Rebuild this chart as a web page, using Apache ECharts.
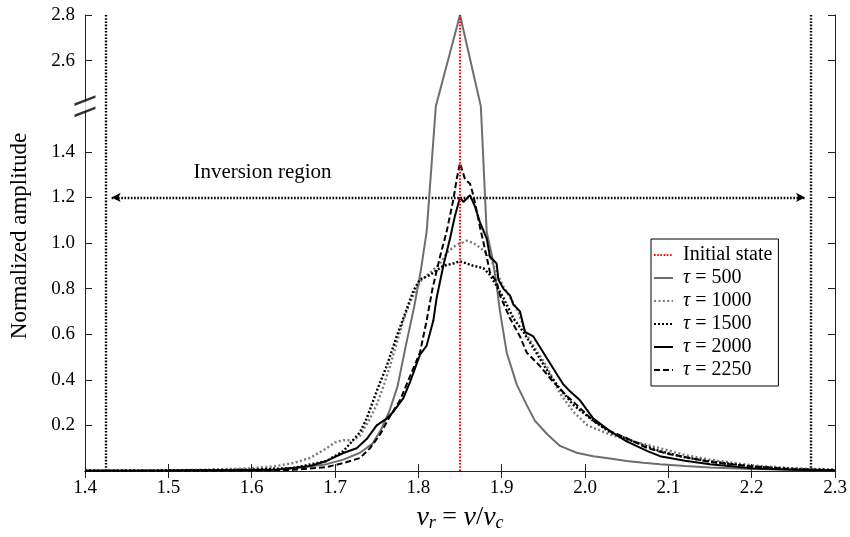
<!DOCTYPE html>
<html>
<head>
<meta charset="utf-8">
<script src="https://cdn.jsdelivr.net/npm/echarts@6.0.0/dist/echarts.min.js"></script>
<style>
  html, body { margin: 0; padding: 0; background: #fff; }
  #main { width: 850px; height: 537px; }
</style>
</head>
<body>
<div id="main"></div>
<script>
// 坐标轴范围（y 轴在 1.6~2.4 之间断开）
var xMin = 1.4, xMax = 2.3;
var BREAK_LO = 1.6, BREAK_HI = 2.4, yTop = 2.8;
var yTickVals = [0.2, 0.4, 0.6, 0.8, 1.0, 1.2, 1.4, 2.6, 2.8];

// 反转区边界
var invLeft = 1.425, invRight = 2.271;

var legendNames = ['Initial state', 'τ = 500', 'τ = 1000', 'τ = 1500', 'τ = 2000', 'τ = 2250'];

var initialState = [[1.85, 0], [1.85, 2.8]];

var tau500 = [[1.40,0.001],[1.50,0.002],[1.55,0.003],[1.60,0.005],[1.63,0.008],[1.66,0.015],[1.69,0.03],
  [1.71,0.05],[1.73,0.08],[1.745,0.12],[1.755,0.18],[1.765,0.26],[1.775,0.37],[1.785,0.55],[1.795,0.72],
  [1.803,0.88],[1.81,1.05],[1.821,1.6],[1.85,2.8],[1.875,1.6],[1.882,1.05],[1.888,0.95],[1.893,0.84],
  [1.898,0.70],[1.906,0.52],[1.918,0.38],[1.93,0.29],[1.94,0.22],[1.955,0.16],[1.97,0.11],[1.99,0.08],
  [2.01,0.065],[2.03,0.055],[2.05,0.044],[2.07,0.036],[2.09,0.03],[2.12,0.022],[2.15,0.015],[2.2,0.009],
  [2.25,0.005],[2.3,0.003]];

var tau1000 = [[1.4,0.001],[1.5,0.003],[1.55,0.006],[1.6,0.012],[1.63,0.022],[1.65,0.035],[1.67,0.057],
  [1.69,0.10],[1.70,0.125],[1.71,0.135],[1.722,0.135],[1.73,0.155],[1.742,0.23],[1.75,0.29],[1.758,0.37],
  [1.766,0.46],[1.774,0.56],[1.782,0.66],[1.79,0.74],[1.802,0.83],[1.814,0.87],[1.826,0.91],[1.835,0.96],
  [1.845,0.99],[1.858,1.01],[1.866,1.0],[1.874,0.98],[1.886,0.94],[1.894,0.87],[1.902,0.81],[1.912,0.75],
  [1.92,0.70],[1.928,0.61],[1.938,0.55],[1.954,0.46],[1.97,0.34],[1.986,0.26],[2.003,0.2],[2.03,0.16],
  [2.058,0.13],[2.09,0.10],[2.12,0.07],[2.15,0.05],[2.2,0.025],[2.25,0.012],[2.3,0.006]];

var tau1500 = [[1.4,0.001],[1.5,0.002],[1.6,0.006],[1.65,0.013],[1.69,0.044],[1.71,0.087],[1.73,0.17],
  [1.738,0.23],[1.75,0.35],[1.762,0.46],[1.774,0.59],[1.786,0.71],[1.794,0.79],[1.802,0.84],[1.814,0.86],
  [1.83,0.9],[1.842,0.91],[1.85,0.92],[1.866,0.9],[1.878,0.89],[1.886,0.86],[1.894,0.81],[1.902,0.76],
  [1.914,0.67],[1.926,0.61],[1.943,0.51],[1.958,0.42],[1.97,0.36],[1.986,0.29],[2.01,0.22],[2.03,0.17],
  [2.058,0.13],[2.09,0.087],[2.12,0.06],[2.15,0.042],[2.2,0.02],[2.25,0.009],[2.3,0.004]];

var tau2000 = [[1.4,0.001],[1.5,0.002],[1.6,0.004],[1.63,0.006],[1.67,0.022],[1.69,0.044],[1.71,0.079],
  [1.726,0.10],[1.738,0.14],[1.75,0.2],[1.762,0.23],[1.77,0.26],[1.782,0.32],[1.79,0.39],[1.802,0.51],
  [1.81,0.55],[1.818,0.66],[1.822,0.76],[1.83,0.90],[1.838,1.02],[1.844,1.12],[1.85,1.2],[1.854,1.18],
  [1.862,1.21],[1.868,1.16],[1.874,1.09],[1.882,1.02],[1.886,0.94],[1.894,0.91],[1.896,0.84],[1.902,0.80],
  [1.91,0.77],[1.914,0.73],[1.922,0.70],[1.928,0.61],[1.938,0.59],[1.955,0.49],[1.967,0.42],[1.974,0.38],
  [1.982,0.35],[1.994,0.31],[2.01,0.23],[2.03,0.175],[2.05,0.13],[2.075,0.087],[2.09,0.065],[2.12,0.045],
  [2.15,0.03],[2.2,0.012],[2.25,0.005],[2.3,0.002]];

var tau2250 = [[1.4,0.001],[1.5,0.001],[1.6,0.002],[1.65,0.005],[1.69,0.017],[1.71,0.035],[1.73,0.057],
  [1.742,0.10],[1.754,0.16],[1.766,0.24],[1.778,0.31],[1.786,0.38],[1.794,0.45],[1.802,0.52],[1.81,0.66],
  [1.817,0.80],[1.826,0.94],[1.834,1.05],[1.842,1.19],[1.846,1.28],[1.85,1.35],[1.856,1.28],[1.862,1.26],
  [1.866,1.21],[1.874,1.07],[1.882,0.94],[1.886,0.87],[1.894,0.83],[1.898,0.77],[1.91,0.67],[1.922,0.59],
  [1.93,0.52],[1.946,0.46],[1.962,0.39],[1.978,0.33],[1.99,0.29],[2.01,0.22],[2.03,0.175],[2.05,0.144],
  [2.075,0.10],[2.1,0.075],[2.15,0.04],[2.2,0.02],[2.25,0.008],[2.3,0.003]];

var FONT = 'Liberation Serif';
var GAP = BREAK_HI - BREAK_LO;

// 断轴：把真实值映射到显示坐标
function brk(v) {
  if (v <= BREAK_LO) return v;
  if (v >= BREAK_HI) return v - GAP;
  return BREAK_LO;
}
function unbrk(v) {
  return v > BREAK_LO + 1e-9 ? v + GAP : v;
}
function conv(arr) {
  return arr.map(function (p) { return [p[0], brk(p[1])]; });
}

var yDispTicks = yTickVals.map(brk);
var yDispMax = brk(yTop);

function lineSeries(name, data, color, width, type) {
  return {
    name: name,
    type: 'line',
    data: conv(data),
    symbol: 'none',
    showSymbol: false,
    smooth: false,
    lineStyle: { color: color, width: width, type: type },
    // 图例里不要圆点
    itemStyle: { color: color, opacity: 0 },
    z: 5
  };
}

var axisCommon = {
  axisLine: { lineStyle: { color: '#222', width: 1 } },
  splitLine: { show: false },
  axisTick: { inside: true, length: 7, lineStyle: { color: '#222' } }
};

var myChart = echarts.init(document.getElementById('main'));
var option = {
  animation: false,
  backgroundColor: '#fff',
  grid: { left: 85, right: 15, top: 15, bottom: 64, containLabel: false },
  legend: {
    data: legendNames,
    orient: 'vertical',
    left: 651,
    top: 239,
    padding: [6, 6, 6, 2],
    itemWidth: 19,
    itemHeight: 14,
    itemGap: 3,
    borderColor: '#000',
    borderWidth: 1,
    backgroundColor: '#fff',
    textStyle: {
      fontFamily: FONT, fontSize: 20, color: '#000', padding: [0, 0, 0, 5],
      rich: { i: { fontFamily: FONT, fontSize: 20, fontStyle: 'italic', color: '#000' } }
    },
    formatter: function (name) {
      if (name.charAt(0) === 'τ') return '{i|τ} = ' + name.slice(4);
      return name;
    }
  },
  xAxis: [
    Object.assign({}, axisCommon, {
      type: 'value', min: xMin, max: xMax, interval: 0.1,
      name: '{i|v}{s|r} = {i|v}/{i|v}{s|c}',
      nameLocation: 'middle',
      nameGap: 32,
      nameTextStyle: {
        fontFamily: FONT, fontSize: 26, color: '#000',
        rich: {
          i: { fontFamily: FONT, fontSize: 28, fontStyle: 'italic', color: '#000' },
          s: { fontFamily: FONT, fontSize: 18, fontStyle: 'italic', color: '#000', padding: [11, 0, 0, 0] }
        }
      },
      axisLabel: {
        fontFamily: FONT, fontSize: 19, color: '#000', margin: 8,
        formatter: function (v) { return v.toFixed(1); }
      }
    }),
    Object.assign({}, axisCommon, {
      type: 'value', min: xMin, max: xMax, interval: 0.1, position: 'top',
      axisLabel: { show: false }
    })
  ],
  yAxis: [
    Object.assign({}, axisCommon, {
      type: 'value', min: 0, max: yDispMax, interval: 0.2,
      name: 'Normalized amplitude',
      nameLocation: 'middle',
      nameGap: 54,
      nameTextStyle: { fontFamily: FONT, fontSize: 23, color: '#000', padding: [0, 0, 0, 14] },
      axisTick: { inside: true, length: 7, customValues: yDispTicks, lineStyle: { color: '#222' } },
      axisLabel: {
        fontFamily: FONT, fontSize: 19, color: '#000', margin: 10,
        customValues: yDispTicks,
        formatter: function (v) { return unbrk(v).toFixed(1); }
      }
    }),
    Object.assign({}, axisCommon, {
      type: 'value', min: 0, max: yDispMax, interval: 0.2, position: 'right',
      axisTick: { inside: true, length: 7, customValues: yDispTicks, lineStyle: { color: '#222' } },
      axisLabel: { show: false }
    })
  ],
  series: [
    {
      name: 'markers',
      type: 'line',
      data: [],
      silent: true,
      markLine: {
        silent: true,
        symbol: 'none',
        precision: 4,
        label: { show: false },
        lineStyle: { color: '#000', width: 2.4, type: [1.6, 1.6] },
        data: [
          { xAxis: invLeft },
          { xAxis: invRight },
          [
            { coord: [invLeft + 0.007, brk(1.2)], symbol: 'arrow', symbolSize: [7, 9] },
            { coord: [invRight - 0.007, brk(1.2)], symbol: 'arrow', symbolSize: [7, 9] }
          ]
        ]
      },
      markPoint: {
        silent: true,
        symbol: 'circle',
        symbolSize: 0,
        label: {
          show: true, position: 'inside', color: '#000',
          fontFamily: FONT, fontSize: 21,
          formatter: 'Inversion region'
        },
        data: [{ coord: [1.613, brk(1.31)] }]
      }
    },
    // 断轴标记
    {
      name: 'breakGap',
      type: 'scatter',
      data: [[xMin, BREAK_LO]],
      symbol: 'rect',
      symbolSize: [5, 10],
      itemStyle: { color: '#fff' },
      clip: false,
      silent: true,
      z: 8
    },
    {
      name: 'breakMark',
      type: 'scatter',
      data: [[xMin, BREAK_LO]],
      symbol: 'path://M0,8 L20,0 L20,2.6 L0,10.6 Z M0,19 L20,11 L20,13.6 L0,21.6 Z',
      symbolSize: [21, 22],
      itemStyle: { color: '#000' },
      clip: false,
      silent: true,
      z: 9
    },
    lineSeries('Initial state', initialState, '#ff0000', 2.2, [1.6, 1.6]),
    lineSeries('τ = 500', tau500, '#6e6e6e', 2, 'solid'),
    lineSeries('τ = 1000', tau1000, '#7a7a7a', 2.4, [2, 2.4]),
    lineSeries('τ = 1500', tau1500, '#000', 2.4, [2, 2]),
    lineSeries('τ = 2000', tau2000, '#000', 2, 'solid'),
    lineSeries('τ = 2250', tau2250, '#000', 2, [6, 3])
  ]
};
// 初始态竖线放在最上层
option.series[3].z = 7;
myChart.setOption(option);
</script>
</body>
</html>
